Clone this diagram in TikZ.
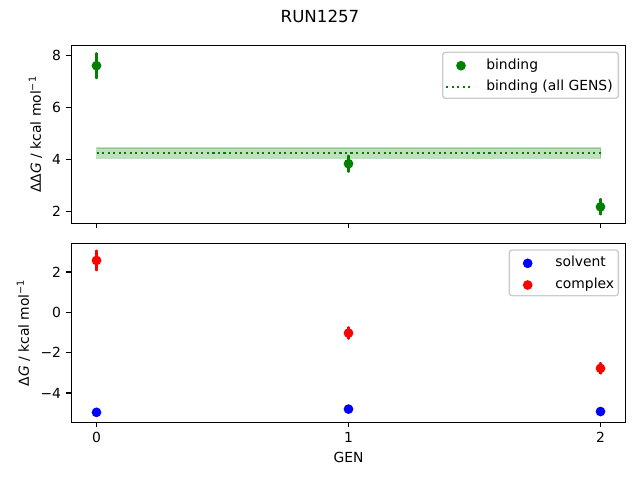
\documentclass[tikz,border=0pt]{standalone}
\usepackage{fontspec}
\setmainfont{DejaVu Sans}
\usepackage{tkz-euclide}
\usetikzlibrary{arrows, calc}

\definecolor{mplgreen}{HTML}{008000}
\definecolor{mplblue}{HTML}{0000FF}
\definecolor{mplred}{HTML}{FF0000}

\tikzset{
  axisframe/.style={line width=0.8pt, black},
  tickmark/.style={line width=0.8pt, black},
  ticklabel/.style={inner sep=0pt, font=\fontsize{10}{12}\selectfont},
  axislabel/.style={inner sep=0pt, font=\fontsize{10}{12}\selectfont},
  titletext/.style={inner sep=0pt, font=\fontsize{12}{14}\selectfont},
  legendbox/.style={draw=black!20, fill=white, line width=1pt, rounded corners=2pt},
  legendtext/.style={inner sep=0pt, anchor=base west, font=\fontsize{10}{12}\selectfont},
  errgreen/.style={mplgreen, line width=1.5pt},
  errred/.style={mplred, line width=1.5pt},
  errblue/.style={mplblue, line width=1.5pt},
  meanline/.style={mplgreen, line width=1.5pt, dash pattern=on 1.5pt off 2.475pt},
  band/.style={fill=mplgreen, draw=mplgreen, fill opacity=0.25, draw opacity=0.25, line width=1pt}
}

\begin{document}
\begin{tikzpicture}[x=0.72pt, y=-0.72pt]
    \useasboundingbox (0,0) rectangle (640,480);
    \node[titletext, anchor=base] (title) at (320,22) {RUN1257};

    % upper panel: binding
    \begin{scope}[shift={(96.5,263.3)}, x=181.44pt, y=18.72pt]
    \tkzDefPoint(0,4.04){m_l}
    \tkzDefPoint(2,4.44){m_r}
    \tkzDefPoint(0,4.25){a_l}
    \tkzDefPoint(2,4.25){a_r}
    \filldraw[band] (m_l) rectangle (m_r);
    \draw[meanline] (a_l) -- (a_r);
    \tkzDefPoint(0,7.60){b_0}
    \tkzDefPoint(1,3.83){b_1}
    \tkzDefPoint(2,2.17){b_2}
    \tkzDefPoint(0,8.08){b_0t}
    \tkzDefPoint(0,7.12){b_0b}
    \tkzDefPoint(1,4.14){b_1t}
    \tkzDefPoint(1,3.52){b_1b}
    \tkzDefPoint(2,2.47){b_2t}
    \tkzDefPoint(2,1.88){b_2b}
    \tkzDrawSegments[errgreen](b_0t,b_0b b_1t,b_1b b_2t,b_2b)
    \fill[mplgreen] (b_0) circle[radius=3.5pt] (b_1) circle[radius=3.5pt] (b_2) circle[radius=3.5pt];
    \draw[axisframe] (-0.1,1.54) rectangle (2.1,8.385);
    \foreach \y in {2,4,6,8}
      \draw[tickmark] (-0.1,\y) -- ++(-3.5pt,0) node[ticklabel, anchor=east, xshift=-3.5pt] (tt\y) {\y};
    \foreach \x in {0,1,2}
      \draw[tickmark] (\x,1.54) -- ++(0,-3.5pt);
    \end{scope}
    \node[axislabel, rotate=90] (ylabtop) at (35.5,134.3) {ΔΔ\textit{G} / kcal mol\textsuperscript{−1}};

    % legend of the upper panel
    \draw[legendbox] (442.7,52.3) rectangle (618.3,98.3);
    \tkzDefPoint(461,65.7){lg_b}
    \tkzDefPoint(446,86.7){lg_l}
    \tkzDefPoint(473.3,86.7){lg_r}
    \fill[mplgreen] (lg_b) circle[radius=3.5pt];
    \draw[meanline] (lg_l) -- (lg_r);
    \node[legendtext] (lgt_b) at (486,69.7) {binding};
    \node[legendtext] (lgt_a) at (486,90.4) {binding (all GENS)};

    % lower panel: solvent and complex
    \begin{scope}[shift={(96.5,312.3)}, x=181.44pt, y=14.52pt]
    \tkzDefPoint(0,2.57){c_0}
    \tkzDefPoint(1,-1.03){c_1}
    \tkzDefPoint(2,-2.78){c_2}
    \tkzDefPoint(0,3.06){c_0t}
    \tkzDefPoint(0,2.08){c_0b}
    \tkzDefPoint(1,-0.74){c_1t}
    \tkzDefPoint(1,-1.31){c_1b}
    \tkzDefPoint(2,-2.51){c_2t}
    \tkzDefPoint(2,-3.04){c_2b}
    \tkzDefPoint(0,-4.96){s_0}
    \tkzDefPoint(1,-4.80){s_1}
    \tkzDefPoint(2,-4.92){s_2}
    \tkzDrawSegments[errred](c_0t,c_0b c_1t,c_1b c_2t,c_2b)
    \fill[mplred] (c_0) circle[radius=3.5pt] (c_1) circle[radius=3.5pt] (c_2) circle[radius=3.5pt];
    \fill[mplblue] (s_0) circle[radius=3.5pt] (s_1) circle[radius=3.5pt] (s_2) circle[radius=3.5pt];
    \draw[axisframe] (-0.1,-5.45) rectangle (2.1,3.42);
    \foreach \y/\t in {-4/−4,-2/−2,0/0,2/2}
      \draw[tickmark] (-0.1,\y) -- ++(-3.5pt,0) node[ticklabel, anchor=east, xshift=-3.5pt] (bt\y) {\t};
    \foreach \x in {0,1,2}
      \draw[tickmark] (\x,-5.45) -- ++(0,-3.5pt) node[ticklabel, anchor=north, yshift=-3.5pt] (xt\x) {\x};
    \end{scope}
    \node[axislabel, rotate=90] (ylabbot) at (23.5,332.8) {Δ\textit{G} / kcal mol\textsuperscript{−1}};
    \node[axislabel, anchor=base] (xlab) at (348.5,462) {GEN};

    % legend of the lower panel
    \draw[legendbox] (509.3,250) rectangle (618.3,295.7);
    \tkzDefPoint(527.7,263.3){lg_s}
    \tkzDefPoint(527.7,285){lg_c}
    \fill[mplblue] (lg_s) circle[radius=3.5pt];
    \fill[mplred] (lg_c) circle[radius=3.5pt];
    \node[legendtext] (lgt_s) at (555,266.9) {solvent};
    \node[legendtext] (lgt_c) at (555,288.5) {complex};
\end{tikzpicture}
\end{document}
